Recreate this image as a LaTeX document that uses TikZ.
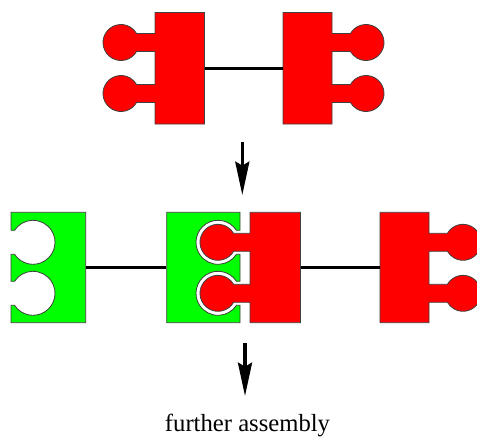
\documentclass[tikz,border=0pt]{standalone}
\usepackage{fontspec}
\setmainfont{Liberation Serif}
\usetikzlibrary{arrows.meta, fit}
\tikzset{x=0.75pt, y=0.75pt,
  redpart/.style={fill=red, draw=black!75, line width=0.6pt},
  greenpart/.style={fill=green, draw=black!75, line width=0.6pt},
  link/.style={line width=2pt},
  flow/.style={line width=2.5pt, -{Stealth[length=25pt, width=10.5pt, inset=3pt]}}}

% block with two knobs on the left: name, x0, x1, ybot, ytop, knob offset
\newcommand{\knobsleft}[6]{%
  \filldraw[redpart] (#2,#5) -- (#3,#5) -- (#3,#4) -- (#2,#4)
    -- (#2,#5-90) -- (#2-#6+15.59,#5-90) arc[start angle=-30, end angle=-330, radius=18]
    -- (#2,#5-72) -- (#2,#5-39) -- (#2-#6+15.59,#5-39) arc[start angle=-30, end angle=-330, radius=18]
    -- (#2,#5-21) -- cycle;
  \path (#2,#4) coordinate (#1-sw) (#3,#5) coordinate (#1-ne);
  \node[fit=(#1-sw)(#1-ne), inner sep=0pt] (#1) {};}

% block with two knobs on the right
\newcommand{\knobsright}[6]{%
  \filldraw[redpart] (#2,#5) -- (#3,#5)
    -- (#3,#5-21) -- (#3+#6-15.59,#5-21) arc[start angle=150, end angle=-150, radius=18]
    -- (#3,#5-39) -- (#3,#5-72) -- (#3+#6-15.59,#5-72) arc[start angle=150, end angle=-150, radius=18]
    -- (#3,#5-90) -- (#3,#4) -- (#2,#4) -- cycle;
  \path (#2,#4) coordinate (#1-sw) (#3,#5) coordinate (#1-ne);
  \node[fit=(#1-sw)(#1-ne), inner sep=0pt] (#1) {};}

% block with two sockets on the left: name, x0, x1, ybot, ytop
\newcommand{\holesleft}[5]{%
  \filldraw[greenpart] (#2,#5) -- (#3,#5) -- (#3,#4) -- (#2,#4)
    -- (#2,#5-93) -- (#2+3.56,#5-93) arc[start angle=213.06, end angle=506.94, radius=22]
    -- (#2,#5-69) -- (#2,#5-42) -- (#2+3.56,#5-42) arc[start angle=213.06, end angle=506.94, radius=22]
    -- (#2,#5-18) -- cycle;
  \path (#2,#4) coordinate (#1-sw) (#3,#5) coordinate (#1-ne);
  \node[fit=(#1-sw)(#1-ne), inner sep=0pt] (#1) {};}

% block with two sockets on the right
\newcommand{\holesright}[5]{%
  \filldraw[greenpart] (#2,#5) -- (#3,#5)
    -- (#3,#5-18) -- (#3-3.56,#5-18) arc[start angle=33.06, end angle=326.94, radius=22]
    -- (#3,#5-42) -- (#3,#5-69) -- (#3-3.56,#5-69) arc[start angle=33.06, end angle=326.94, radius=22]
    -- (#3,#5-93) -- (#3,#4) -- (#2,#4) -- cycle;
  \path (#2,#4) coordinate (#1-sw) (#3,#5) coordinate (#1-ne);
  \node[fit=(#1-sw)(#1-ne), inner sep=0pt] (#1) {};}

\begin{document}
\begin{tikzpicture}
\useasboundingbox (0,0) rectangle (477,437);

% two single units
\knobsleft{unitA}{155}{204.5}{313}{424.5}{34}
\knobsright{unitB}{283}{332}{313}{424.5}{34}
\draw[link] (unitA) -- (unitB);

% joined chain
\holesleft{sockA}{11}{85.7}{114.3}{224.7}
\holesright{sockB}{166.7}{240}{114.3}{224.7}
\knobsleft{plugA}{250}{300.5}{114.3}{224.7}{32}
\knobsright{plugB}{380}{429}{114.3}{224.7}{34}
\draw[link] (sockA) -- (sockB);
\draw[link] (plugA) -- (plugB);

% steps
\coordinate (stepA) at (242.3,295);
\coordinate (stepAend) at (242.3,242);
\coordinate (stepB) at (245,94);
\coordinate (stepBend) at (245,41);
\draw[flow] (stepA) -- (stepAend);
\draw[flow] (stepB) -- (stepBend);

\node[font=\fontsize{18.5}{22}\selectfont, anchor=base] (further) at (247.5,6) {further assembly};
\end{tikzpicture}
\end{document}
